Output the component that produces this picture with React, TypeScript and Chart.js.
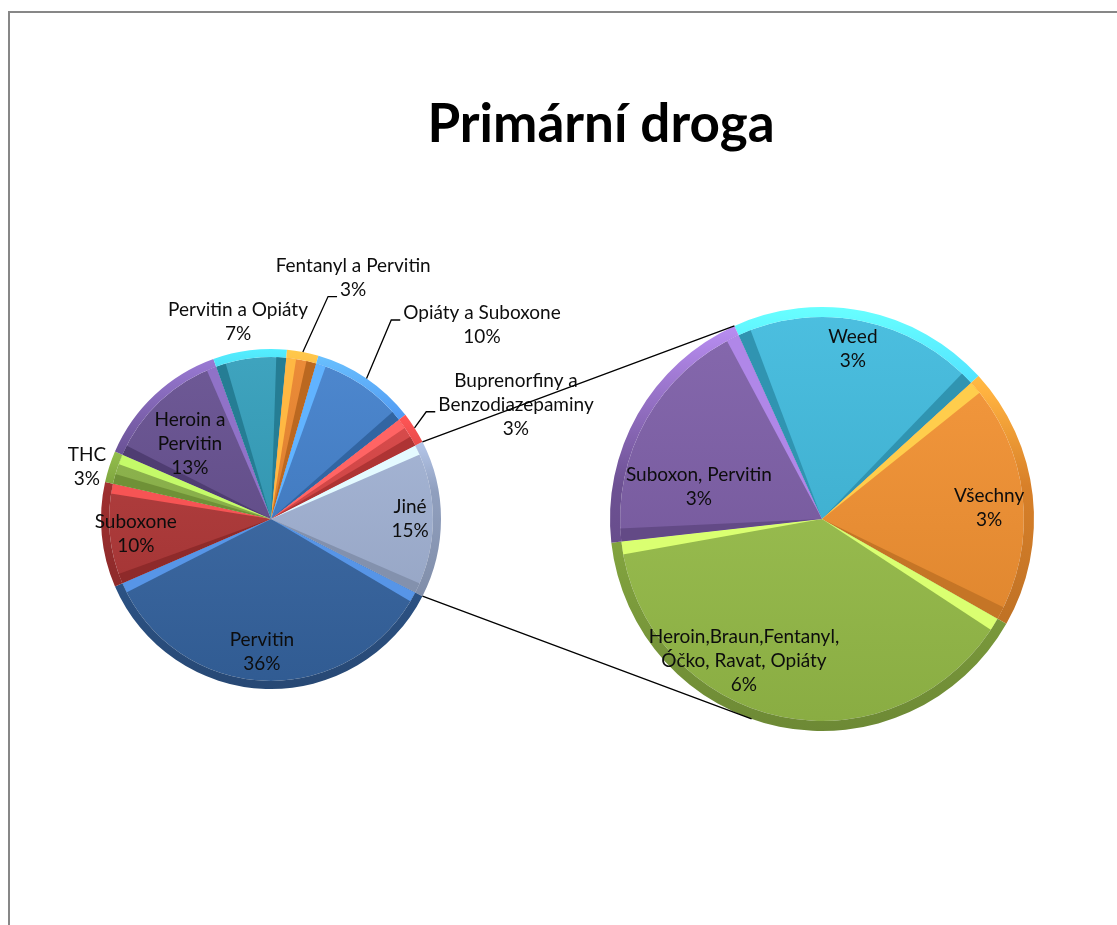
import React, { useEffect, useRef } from "react";
import { Chart, registerables } from "chart.js";

Chart.register(...registerables);

// ---------- data ----------
const TITLE = "Primární droga";

const mainCategories = [
  "Jiné",
  "Pervitin",
  "Suboxone",
  "THC",
  "Heroin a\nPervitin",
  "Pervitin a Opiáty",
  "Fentanyl a Pervitin",
  "Opiáty a Suboxone",
  "Buprenorfiny a\nBenzodiazepaminy",
];
const mainValues = [15, 36, 10, 3, 13, 7, 3, 10, 3];

const secondaryCategories = [
  "Weed",
  "Všechny",
  "Heroin,Braun,Fentanyl,\nÓčko, Ravat, Opiáty",
  "Suboxon, Pervitin",
];
const secondaryValues = [3, 3, 6, 3];

const mainColors = ["#A4B5D8", "#3767A6", "#B23535", "#8BB545", "#634C8E", "#2E9CB9", "#EA8228", "#3F7ECB", "#DA4141"];
const secondaryColors = ["#3CB9DD", "#F6922F", "#9CC34B", "#7C5CA7"];

// ---------- layout / style ----------
const W = 1117;
const H = 925;
const FONT = "Lato, 'Open Sans', sans-serif";
const LABEL_PX = 19;
const LINE_H = 24;
const MAIN_AREA = { left: 101, top: 349, size: 340 };
const SEC_AREA = { left: 610, top: 307, size: 424 };
const MAIN_ROTATION = 63;
const SEC_ROTATION = -24.4;
const OTHER_INDEX = 0; // "Jiné" is split into the secondary pie
const SEC_BOTTOM_ANGLE = 109.4;
// label anchors: [radius factor, angle in degrees clockwise from 3 o'clock]
const mainLabelPos = [
  [0.818, 0], [0.784, 93.9], [0.8, 173.7], [1.125, 195.8], [0.65, 222.8],
  [1.175, 260.5], [1.5, 288.8], [1.686, 317.4], [1.59, 335],
];
const secLabelPos = [[0.815, 280.3], [0.79, 356.2], [0.764, 118.8], [0.6, 194.6]];
const mainLeaders: Record<number, number> = { 6: 1, 7: 0, 8: 1 };

const mainTotal = mainValues.reduce((a, b) => a + b, 0);

function hexToRgb(h: string) {
  const n = parseInt(h.slice(1), 16);
  return [(n >> 16) & 255, (n >> 8) & 255, n & 255];
}
function shade(h: string, t: number) {
  const [r, g, b] = hexToRgb(h);
  const f = (c: number) => (t >= 0 ? Math.round(c + (255 - c) * t) : Math.round(c * (1 + t)));
  return `rgb(${f(r)},${f(g)},${f(b)})`;
}
function bright(h: string, k = 1.4, add = 20) {
  const [r, g, b] = hexToRgb(h);
  const f = (c: number) => Math.min(255, Math.round(c * k + add));
  return `rgb(${f(r)},${f(g)},${f(b)})`;
}

const rimFill = (colors: string[]) => (ctx: any) => {
  const c = colors[ctx.dataIndex];
  const a = ctx.chart.chartArea;
  if (!a) return c;
  const g = ctx.chart.ctx.createLinearGradient(0, a.top, 0, a.bottom);
  g.addColorStop(0, bright(c));
  g.addColorStop(0.2, bright(c, 1.15, 10));
  g.addColorStop(0.42, shade(c, -0.12));
  g.addColorStop(1, shade(c, -0.3));
  return g;
};
const bodyFill = (colors: string[]) => (ctx: any) => {
  const c = colors[ctx.dataIndex];
  const a = ctx.chart.chartArea;
  if (!a) return c;
  const g = ctx.chart.ctx.createLinearGradient(0, a.top, 0, a.bottom);
  g.addColorStop(0, shade(c, 0.08));
  g.addColorStop(1, shade(c, -0.12));
  return g;
};

function bevelPlugin(colors: string[], w: number) {
  return {
    id: "bevel",
    afterDatasetsDraw(chart: any) {
      const ctx = chart.ctx;
      const body = chart.getDatasetMeta(1).data;
      body.forEach((el: any, i: number) => {
        const { x, y, startAngle: s, endAngle: e, outerRadius: R } = el;
        const c = colors[i];
        ctx.save();
        ctx.beginPath();
        ctx.moveTo(x, y);
        ctx.arc(x, y, R, s, e);
        ctx.closePath();
        ctx.clip();
        const edge = (ang: number, inward: number, lit: boolean) => {
          const px = x + R * Math.cos(ang);
          const py = y + R * Math.sin(ang);
          const qx = px + w * Math.cos(inward);
          const qy = py + w * Math.sin(inward);
          ctx.beginPath();
          ctx.moveTo(x, y);
          ctx.lineTo(px, py);
          ctx.lineTo(qx, qy);
          ctx.closePath();
          ctx.fillStyle = lit ? bright(c, 1.3, 15) : shade(c, -0.2);
          ctx.fill();
        };
        edge(s, s + Math.PI / 2, Math.cos(s) > 0);
        edge(e, e - Math.PI / 2, Math.cos(e) < 0);
        ctx.restore();
      });
    },
  };
}

function labelPlugin(categories: string[], values: number[], total: number, pos: number[][], leaders: Record<number, number>) {
  return {
    id: "sliceLabels",
    afterDraw(chart: any) {
      const ctx = chart.ctx;
      const body = chart.getDatasetMeta(1).data;
      const rim = chart.getDatasetMeta(0).data;
      ctx.save();
      ctx.font = `${LABEL_PX}px ${FONT}`;
      ctx.textAlign = "center";
      ctx.textBaseline = "middle";
      body.forEach((el: any, i: number) => {
        const R = rim[i].outerRadius;
        const [rf, deg] = pos[i];
        const a = (deg * Math.PI) / 180;
        const cx = el.x + rf * R * Math.cos(a);
        const cy = el.y + rf * R * Math.sin(a);
        const lines = [...categories[i].split("\n"), Math.round((values[i] / total) * 100) + "%"];
        const top = cy - ((lines.length - 1) / 2) * LINE_H;
        ctx.fillStyle = "#0d0d0d";
        lines.forEach((t, k) => ctx.fillText(t, cx, top + k * LINE_H));
        const li = leaders[i];
        if (li !== undefined) {
          const tw = ctx.measureText(lines[li]).width;
          const ex = cx - tw / 2 - 3;
          const ey = top + li * LINE_H + 7;
          const mid = (el.startAngle + el.endAngle) / 2;
          const sx = el.x + R * Math.cos(mid);
          const sy = el.y + R * Math.sin(mid);
          ctx.beginPath();
          ctx.moveTo(sx, sy);
          ctx.lineTo(ex - 9, ey);
          ctx.lineTo(ex, ey);
          ctx.strokeStyle = "#000";
          ctx.lineWidth = 1.3;
          ctx.stroke();
        }
      });
      ctx.restore();
    },
  };
}

const titlePlugin = {
  id: "bigTitle",
  afterDraw(chart: any) {
    const ctx = chart.ctx;
    ctx.save();
    ctx.font = `bold 53px ${FONT}`;
    ctx.fillStyle = "#000";
    ctx.textAlign = "center";
    ctx.textBaseline = "alphabetic";
    ctx.fillText(TITLE, 601, 142);
    ctx.restore();
  },
};

function connectorPlugin(getMain: () => any) {
  return {
    id: "connector",
    afterDraw(chart: any) {
      const main = getMain();
      if (!main) return;
      const mEl = main.getDatasetMeta(0).data[OTHER_INDEX];
      const sEl = chart.getDatasetMeta(0).data[0];
      if (!mEl || !sEl) return;
      const R1 = mEl.outerRadius;
      const R2 = sEl.outerRadius;
      const p1 = [mEl.x + R1 * Math.cos(mEl.startAngle), mEl.y + R1 * Math.sin(mEl.startAngle)];
      const p2 = [mEl.x + R1 * Math.cos(mEl.endAngle), mEl.y + R1 * Math.sin(mEl.endAngle)];
      const b = (SEC_BOTTOM_ANGLE * Math.PI) / 180;
      const q1 = [sEl.x + R2 * Math.cos(sEl.startAngle), sEl.y + R2 * Math.sin(sEl.startAngle)];
      const q2 = [sEl.x + R2 * Math.cos(b), sEl.y + R2 * Math.sin(b)];
      const ctx = chart.ctx;
      ctx.save();
      ctx.strokeStyle = "#000";
      ctx.lineWidth = 1.3;
      ctx.beginPath();
      ctx.moveTo(p1[0], p1[1]);
      ctx.lineTo(q1[0], q1[1]);
      ctx.moveTo(p2[0], p2[1]);
      ctx.lineTo(q2[0], q2[1]);
      ctx.stroke();
      ctx.restore();
    },
  };
}

function pieConfig(categories: string[], values: number[], colors: string[], area: any, rotation: number, plugins: any[]) {
  return {
    type: "pie" as const,
    data: {
      labels: categories,
      datasets: [
        { data: values, backgroundColor: rimFill(colors), borderWidth: 0, weight: 1 },
        { data: values, backgroundColor: bodyFill(colors), borderWidth: 0, weight: 20 },
      ],
    },
    options: {
      responsive: false,
      animation: false as const,
      devicePixelRatio: 1,
      rotation,
      events: [],
      layout: {
        padding: {
          left: area.left,
          top: area.top,
          right: W - area.left - area.size,
          bottom: H - area.top - area.size,
        },
      },
      plugins: { legend: { display: false }, tooltip: { enabled: false }, title: { display: false } },
    },
    plugins,
  };
}

export default function App() {
  const c1 = useRef<HTMLCanvasElement>(null);
  const c2 = useRef<HTMLCanvasElement>(null);
  useEffect(() => {
    let mainChart: any = null;
    mainChart = new Chart(
      c1.current!,
      pieConfig(mainCategories, mainValues, mainColors, MAIN_AREA, MAIN_ROTATION, [
        bevelPlugin(mainColors, 10),
        labelPlugin(mainCategories, mainValues, mainTotal, mainLabelPos, mainLeaders),
        titlePlugin,
      ]) as any
    );
    const secChart = new Chart(
      c2.current!,
      pieConfig(secondaryCategories, secondaryValues, secondaryColors, SEC_AREA, SEC_ROTATION, [
        bevelPlugin(secondaryColors, 13),
        labelPlugin(secondaryCategories, secondaryValues, mainTotal, secLabelPos, {}),
        connectorPlugin(() => mainChart),
      ]) as any
    );
    return () => {
      secChart.destroy();
      mainChart.destroy();
    };
  }, []);
  return (
    <div style={{ position: "fixed", left: 0, top: 0, width: W, height: H, background: "#fff", overflow: "hidden" }}>
      <div
        style={{
          position: "absolute",
          left: 8,
          top: 11,
          width: W - 8,
          height: H - 11,
          borderLeft: "2px solid #878787",
          borderTop: "2px solid #878787",
          boxSizing: "border-box",
        }}
      />
      <canvas ref={c1} width={W} height={H} style={{ position: "absolute", left: 0, top: 0 }} />
      <canvas ref={c2} width={W} height={H} style={{ position: "absolute", left: 0, top: 0 }} />
    </div>
  );
}
